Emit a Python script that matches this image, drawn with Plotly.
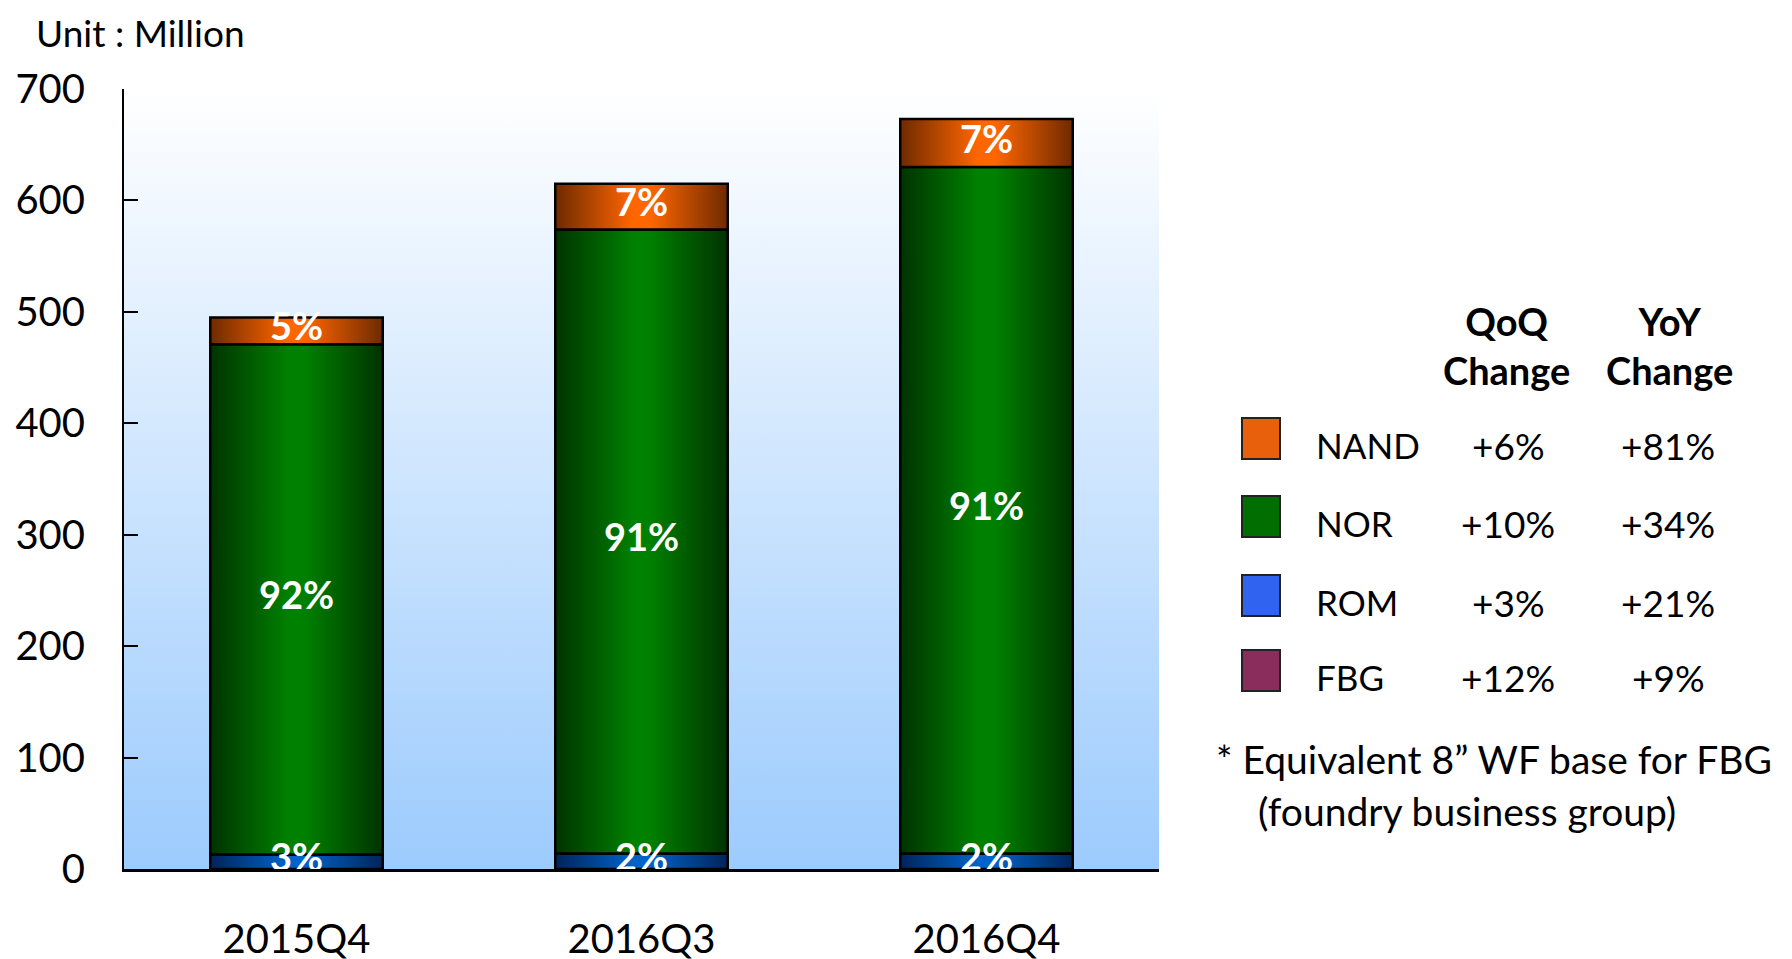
import plotly.graph_objects as go

# data (million units)
quarters = ["2015Q4", "2016Q3", "2016Q4"]
rom = [13, 14, 14]
nor = [458, 560, 616]
nand = [24, 41, 43]
rom_share = ["3%", "2%", "2%"]
nor_share = ["92%", "91%", "91%"]
nand_share = ["5%", "7%", "7%"]

table_series = ["NAND", "NOR", "ROM", "FBG"]
qoq_change = ["+6%", "+10%", "+3%", "+12%"]
yoy_change = ["+81%", "+34%", "+21%", "+9%"]

FONT = "Lato"
W, H = 1792, 959
OFF = 8  # page body margin
L, T = 124 - OFF, 89 - OFF
PW, PH = 1035, 780
R, B = W - L - PW, H - T - PH
Y_MAX = 700
HALF = 0.25

bar_scales = {
    "ROM": [[0, "#00245a"], [0.45, "#0063c9"], [0.55, "#0063c9"], [1, "#00245a"]],
    "NOR": [[0, "#003300"], [0.45, "#008000"], [0.55, "#008000"], [1, "#003300"]],
    "NAND": [[0, "#6e2a00"], [0.45, "#ff6600"], [0.55, "#ff6600"], [1, "#6e2a00"]],
}
swatch_colors = {"NAND": "#e8600c", "NOR": "#006e00", "ROM": "#2f63f0", "FBG": "#8a2c5c"}

fig = go.Figure()

# plot background gradient
fig.add_trace(go.Scatter(
    x=[-0.5, 2.5, 2.5, -0.5, -0.5], y=[0, 0, Y_MAX, Y_MAX, 0],
    mode="lines", fill="toself", line=dict(width=0),
    fillgradient=dict(type="vertical", colorscale=[[0, "#9ccbfd"], [1, "#ffffff"]]),
    hoverinfo="skip", showlegend=False,
))

stack = [("ROM", rom, rom_share), ("NOR", nor, nor_share), ("NAND", nand, nand_share)]
base = [0] * len(quarters)
labels = []
for name, vals, shares in stack:
    mids = []
    for i, v in enumerate(vals):
        b0, b1 = base[i], base[i] + v
        fig.add_trace(go.Scatter(
            x=[i - HALF, i + HALF, i + HALF, i - HALF, i - HALF],
            y=[b0, b0, b1, b1, b0],
            mode="lines", fill="toself",
            line=dict(color="black", width=2.5),
            fillgradient=dict(type="horizontal", colorscale=bar_scales[name]),
            name=name, showlegend=False, hoverinfo="skip",
        ))
        mids.append((b0 + b1) / 2)
        base[i] = b1
    labels.append((mids, shares))

# share labels on top of all segments
for mids, shares in labels:
    fig.add_trace(go.Scatter(
        x=list(range(len(quarters))), y=mids, mode="text", text=shares,
        textfont=dict(family=FONT, size=38, color="white", weight="bold"),
        showlegend=False, hoverinfo="skip",
    ))


# screen pixel -> paper coords
def px_x(p):
    return (p - OFF - L) / PW


def px_y(p):
    return (H - B - (p - OFF)) / PH


ann = []
ann.append(dict(text="Unit : Million", x=px_x(34), y=px_y(OFF), xanchor="left", yanchor="top",
                font=dict(family=FONT, size=37, color="black")))
for cx, head in [(1506, "QoQ<br>Change"), (1669, "YoY<br>Change")]:
    ann.append(dict(text="<b>" + head + "</b>", x=px_x(cx), y=px_y(345),
                    xanchor="center", font=dict(family=FONT, size=38, color="black")))

row_y = [445, 523, 602, 677]
shapes = []
for k, name in enumerate(table_series):
    yc = row_y[k]
    ann.append(dict(text=name, x=px_x(1314), y=px_y(yc), xanchor="left",
                    font=dict(family=FONT, size=35, color="black")))
    ann.append(dict(text=qoq_change[k], x=px_x(1508), y=px_y(yc), xanchor="center"))
    ann.append(dict(text=yoy_change[k], x=px_x(1668), y=px_y(yc), xanchor="center"))
    shapes.append(dict(type="rect", xref="paper", yref="paper",
                       x0=px_x(1242), x1=px_x(1280), y0=px_y(yc - 27), y1=px_y(yc + 14),
                       fillcolor=swatch_colors[name], line=dict(color="#222222", width=2)))

ann.append(dict(text="* Equivalent 8\u201d WF base for FBG", x=px_x(1214), y=px_y(759), xanchor="left",
                font=dict(family=FONT, size=39, color="black")))
ann.append(dict(text="(foundry business group)", x=px_x(1256), y=px_y(811), xanchor="left",
                font=dict(family=FONT, size=39, color="black")))

for a in ann:
    a.setdefault("font", dict(family=FONT, size=37, color="black"))
    a.setdefault("yanchor", "middle")
    a.update(xref="paper", yref="paper", showarrow=False)

fig.update_layout(
    width=W, height=H,
    margin=dict(l=L, r=R, t=T, b=B, autoexpand=False),
    paper_bgcolor="white", plot_bgcolor="rgba(0,0,0,0)",
    font=dict(family=FONT, color="black"),
    annotations=ann, shapes=shapes,
    showlegend=False,
)
fig.update_xaxes(
    range=[-0.5, 2.5], tickvals=list(range(len(quarters))), ticktext=quarters,
    showgrid=False, zeroline=False, showline=True, linecolor="black", linewidth=3,
    ticks="", tickfont=dict(family=FONT, size=40, color="black"), ticklabelstandoff=33,
    automargin=False,
)
fig.update_yaxes(
    range=[0, Y_MAX], tickvals=[0, 100, 200, 300, 400, 500, 600, 700],
    showgrid=False, zeroline=False, showline=True, linecolor="black", linewidth=2,
    ticks="inside", ticklen=14, tickwidth=2, tickcolor="black",
    tickfont=dict(family=FONT, size=40, color="black"), ticklabelstandoff=29,
    automargin=False,
)

fig.write_html("out.html")
